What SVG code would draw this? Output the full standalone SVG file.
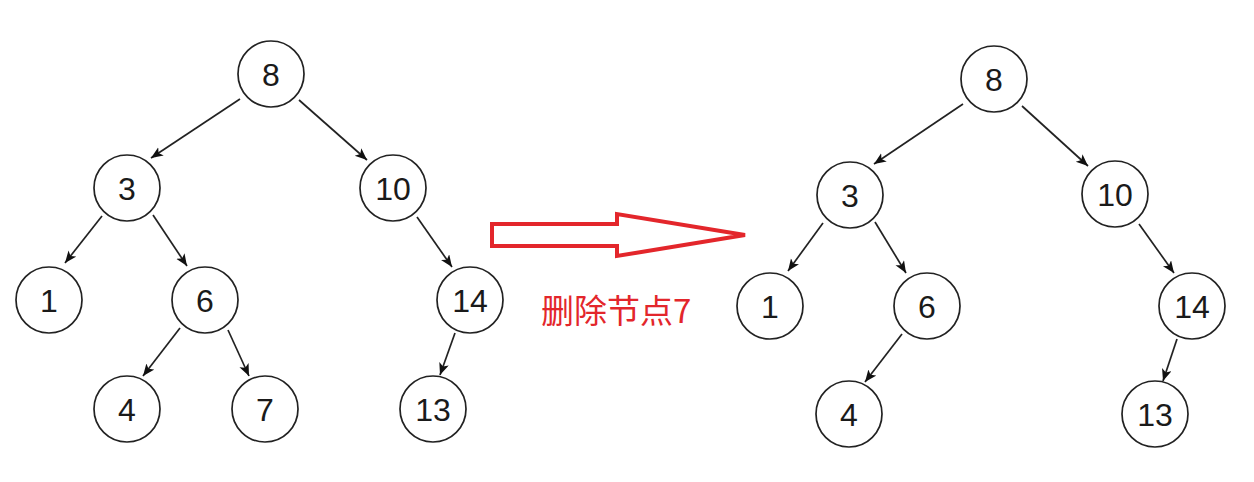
<svg xmlns="http://www.w3.org/2000/svg" width="1254" height="482" viewBox="0 0 1254 482">
<style>
.n circle{fill:#fff;stroke:#222;stroke-width:1.7}
.n text{font-family:"Liberation Sans",Arial,sans-serif;font-size:32px;fill:#1a1a1a;text-anchor:middle}
.e line{stroke:#222;stroke-width:1.7;marker-end:url(#ah)}
.lbl{font-family:"Noto Sans CJK SC","Liberation Sans",sans-serif;font-size:33px;fill:#e3262b}
</style>
<defs>
<marker id="ah" markerUnits="userSpaceOnUse" markerWidth="14" markerHeight="12" refX="12" refY="5" orient="auto">
<path d="M0,0 L12,5 L0,10 L3,5 z" fill="#111"/>
</marker>
</defs>
<rect width="1254" height="482" fill="#fff"/>
<g id="connectors" class="e">
<line x1="240" y1="99" x2="151" y2="158"/>
<line x1="299" y1="100" x2="367" y2="160"/>
<line x1="102" y1="216" x2="65" y2="263"/>
<line x1="153" y1="215" x2="187" y2="266"/>
<line x1="417" y1="217" x2="452" y2="267"/>
<line x1="180" y1="328" x2="143" y2="376"/>
<line x1="228" y1="330" x2="249" y2="376"/>
<line x1="455" y1="333" x2="440" y2="375"/>
<line x1="963" y1="104" x2="874" y2="164"/>
<line x1="1022" y1="106" x2="1088" y2="166"/>
<line x1="823" y1="223" x2="788" y2="271"/>
<line x1="875" y1="222" x2="906" y2="273"/>
<line x1="902" y1="334" x2="865" y2="382"/>
<line x1="1139" y1="224" x2="1174" y2="273"/>
<line x1="1177" y1="339" x2="1163" y2="381"/>
</g>
<g id="L8" class="n"><circle cx="271" cy="74" r="33"/><text x="271" y="86">8</text></g>
<g id="L3" class="n"><circle cx="127" cy="188" r="33"/><text x="127" y="200">3</text></g>
<g id="L10" class="n"><circle cx="393" cy="188" r="33"/><text x="393" y="200">10</text></g>
<g id="L1" class="n"><circle cx="49" cy="300" r="33"/><text x="49" y="312">1</text></g>
<g id="L6" class="n"><circle cx="205" cy="300" r="33"/><text x="205" y="312">6</text></g>
<g id="L14" class="n"><circle cx="470" cy="300" r="33"/><text x="470" y="312">14</text></g>
<g id="L4" class="n"><circle cx="127" cy="409" r="33"/><text x="127" y="421">4</text></g>
<g id="L7" class="n"><circle cx="265" cy="409" r="33"/><text x="265" y="421">7</text></g>
<g id="L13" class="n"><circle cx="433" cy="409" r="33"/><text x="433" y="421">13</text></g>
<g id="R8" class="n"><circle cx="994" cy="79" r="33"/><text x="994" y="91">8</text></g>
<g id="R3" class="n"><circle cx="850" cy="195" r="33"/><text x="850" y="207">3</text></g>
<g id="R10" class="n"><circle cx="1115" cy="194" r="33"/><text x="1115" y="206">10</text></g>
<g id="R1" class="n"><circle cx="770" cy="306" r="33"/><text x="770" y="318">1</text></g>
<g id="R6" class="n"><circle cx="927" cy="306" r="33"/><text x="927" y="318">6</text></g>
<g id="R14" class="n"><circle cx="1192" cy="306" r="33"/><text x="1192" y="318">14</text></g>
<g id="R4" class="n"><circle cx="849" cy="414" r="33"/><text x="849" y="426">4</text></g>
<g id="R13" class="n"><circle cx="1155" cy="414" r="33"/><text x="1155" y="426">13</text></g>
<g id="bigArrow">
<polygon points="492,224 617,224 617,214 745,235 617,256 617,246 492,246" fill="#fff" stroke="#e3262b" stroke-width="4" stroke-linejoin="miter"/>
</g>
<text class="lbl" x="541" y="323">删除节点7</text>
</svg>
